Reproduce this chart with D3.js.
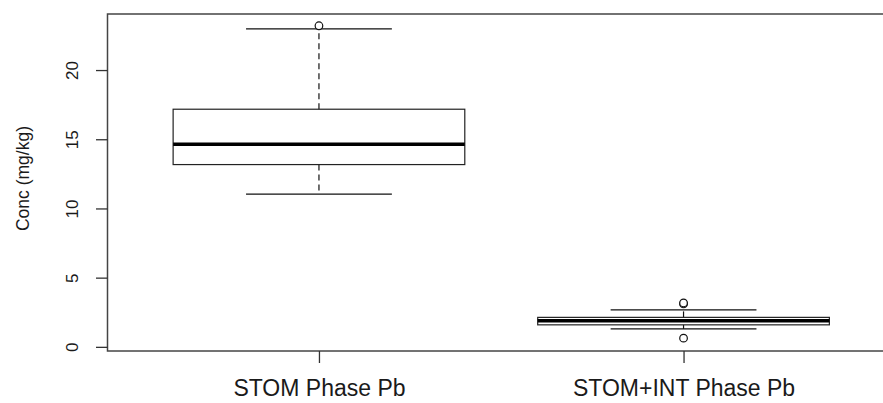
<!DOCTYPE html>
<html>
<head>
<meta charset="utf-8">
<script src="https://cdn.jsdelivr.net/npm/d3@7"></script>
<style>
  html, body { margin: 0; padding: 0; background: #fff; }
  svg { display: block; }
  text { font-family: "Liberation Sans", Arial, sans-serif; fill: #1a1a1a; }
</style>
</head>
<body>
<svg id="chart" width="883" height="403"></svg>
<script>
// ---- Data ----
const categories   = ["STOM Phase Pb", "STOM+INT Phase Pb"];
const whiskerLow   = [11.03, 1.30];
const q1           = [13.17, 1.59];
const median       = [14.64, 1.88];
const q3           = [17.17, 2.13];
const whiskerHigh  = [22.98, 2.67];
const outliers     = [[23.2], [3.1, 3.17, 0.63]];
const yTicks       = [0, 5, 10, 15, 20];
const yLabel       = "Conc (mg/kg)";

// ---- Layout ----
const svg = d3.select("#chart");
const plot = { left: 107.5, top: 14, bottom: 351 };

// R-style axis extents: x in [0.5, n+0.5] widened by 4%; y data range widened by 4%
const xPad = (categories.length) * 0.04;
const x = d3.scaleLinear()
  .domain([0.5 - xPad, categories.length + 0.5 + xPad])
  .range([plot.left, plot.left + 787.5]);

const y = d3.scaleLinear()
  .domain([-0.3, 24.05])
  .range([plot.bottom, plot.top]);

const boxW = 0.8;   // in x units
const capW = 0.4;

const g = svg.append("g");

categories.forEach((c, i) => {
  const cx = i + 1;
  const grp = g.append("g");
  // dashed whiskers
  grp.append("line")
    .attr("x1", x(cx)).attr("x2", x(cx))
    .attr("y1", y(q3[i])).attr("y2", y(whiskerHigh[i]))
    .attr("stroke", "#111").attr("stroke-width", 1.2)
    .attr("stroke-dasharray", "6,4");
  grp.append("line")
    .attr("x1", x(cx)).attr("x2", x(cx))
    .attr("y1", y(q1[i])).attr("y2", y(whiskerLow[i]))
    .attr("stroke", "#111").attr("stroke-width", 1.2)
    .attr("stroke-dasharray", "6,4");
  // caps
  [whiskerHigh[i], whiskerLow[i]].forEach(v => {
    grp.append("line")
      .attr("x1", x(cx - capW / 2)).attr("x2", x(cx + capW / 2))
      .attr("y1", y(v)).attr("y2", y(v))
      .attr("stroke", "#111").attr("stroke-width", 1.2);
  });
  // box
  grp.append("rect")
    .attr("x", x(cx - boxW / 2))
    .attr("y", y(q3[i]))
    .attr("width", x(cx + boxW / 2) - x(cx - boxW / 2))
    .attr("height", y(q1[i]) - y(q3[i]))
    .attr("fill", "none").attr("stroke", "#222").attr("stroke-width", 1.2);
  // median
  grp.append("line")
    .attr("x1", x(cx - boxW / 2)).attr("x2", x(cx + boxW / 2))
    .attr("y1", y(median[i])).attr("y2", y(median[i]))
    .attr("stroke", "#000").attr("stroke-width", 3.5);
  // outliers
  outliers[i].forEach(v => {
    grp.append("circle")
      .attr("cx", x(cx)).attr("cy", y(v)).attr("r", 3.8)
      .attr("fill", "#fff").attr("stroke", "#111").attr("stroke-width", 1.2);
  });
});

// frame (right side falls outside the viewport, as in the reference)
g.append("rect")
  .attr("x", plot.left).attr("y", plot.top)
  .attr("width", x.range()[1] - plot.left)
  .attr("height", plot.bottom - plot.top)
  .attr("fill", "none").attr("stroke", "#444").attr("stroke-width", 1.5);

// y axis
const yAxis = d3.axisLeft(y).tickValues(yTicks).tickSize(11.5).tickPadding(0).tickFormat(d3.format("d"));
const ya = svg.append("g").attr("transform", `translate(${plot.left},0)`).call(yAxis);
ya.select(".domain").remove();
ya.selectAll(".tick line").attr("stroke", "#333").attr("stroke-width", 1.3);
ya.selectAll(".tick text")
  .attr("x", null).attr("dy", null)
  .attr("text-anchor", "middle")
  .attr("transform", `translate(${78 - plot.left},0) rotate(-90)`)
  .attr("font-size", 17)
  .style("font-family", '"Liberation Sans", Arial, sans-serif')
  .attr("fill", "#1a1a1a");

// x axis
const xAxis = d3.axisBottom(x).tickValues(categories.map((c, i) => i + 1))
  .tickSize(12).tickPadding(0).tickFormat((d) => categories[d - 1]);
const xa = svg.append("g").attr("transform", `translate(0,${plot.bottom})`).call(xAxis);
xa.select(".domain").remove();
xa.selectAll(".tick line").attr("stroke", "#333").attr("stroke-width", 1.3);
xa.selectAll(".tick text")
  .attr("y", 396 - plot.bottom).attr("dy", null)
  .attr("font-size", 23)
  .style("font-family", '"Liberation Sans", Arial, sans-serif')
  .attr("fill", "#1a1a1a");

// y label
svg.append("text")
  .attr("transform", `translate(29,${(y(24.05) + y(-0.3)) / 2 - 4}) rotate(-90)`)
  .attr("text-anchor", "middle")
  .attr("font-size", 17.5)
  .attr("fill", "#222")
  .text(yLabel);
</script>
</body>
</html>
